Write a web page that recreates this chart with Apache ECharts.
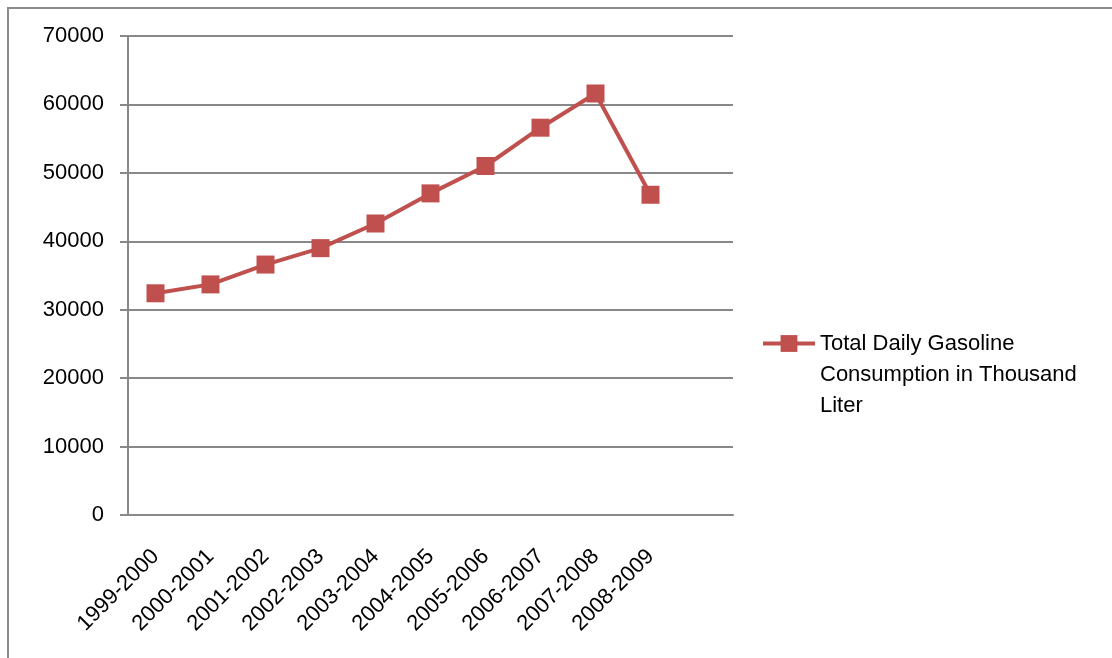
<!DOCTYPE html>
<html>
<head>
<meta charset="utf-8">
<script src="https://cdn.jsdelivr.net/npm/echarts@6/dist/echarts.min.js"></script>
<style>
  * { margin: 0; padding: 0; }
  body { background: #fff; }
  #chart { width: 1112px; height: 658px; }
</style>
</head>
<body>
<div id="chart"></div>
<script>
// years on the x axis (last slot is left empty, as in the original)
var categories = ['1999-2000', '2000-2001', '2001-2002', '2002-2003', '2003-2004',
  '2004-2005', '2005-2006', '2006-2007', '2007-2008', '2008-2009', ''];
// daily gasoline consumption, thousand liter
var consumption = [32400, 33700, 36600, 39000, 42600, 47000, 51000, 56600, 61600, 46800];
var seriesName = 'Total Daily Gasoline\nConsumption in Thousand\nLiter';

var chart = echarts.init(document.getElementById('chart'));
chart.setOption({
  animation: false,
  textStyle: { fontFamily: 'Liberation Sans' },
  graphic: [{
    type: 'rect',
    shape: { x: 8, y: 8, width: 1120, height: 670 },
    style: { fill: 'none', stroke: '#8c8c8c', lineWidth: 2 }
  }],
  grid: { left: 128, right: 379, top: 36, bottom: 143 },
  legend: {
    left: 761, top: 266,
    padding: 0,
    itemWidth: 52, itemHeight: 21,
    itemGap: 0,
    lineStyle: { width: 4 },
    // two leading blank lines keep the icon level with the first text line
    formatter: function (name) { return ' \n \n' + name; },
    textStyle: { fontSize: 22, color: '#000', lineHeight: 31 },
    data: [seriesName]
  },
  xAxis: {
    type: 'category',
    data: categories,
    axisLine: { lineStyle: { color: '#888', width: 2 } },
    axisTick: { length: 6, lineStyle: { color: '#888', width: 2 } },
    axisLabel: { rotate: 45, fontSize: 22, color: '#000', margin: 38, interval: 0 }
  },
  yAxis: {
    type: 'value',
    min: 0, max: 70000, interval: 10000,
    axisLine: { show: true, lineStyle: { color: '#888', width: 2 } },
    axisTick: { show: true, length: 8, lineStyle: { color: '#888', width: 2 } },
    axisLabel: { fontSize: 22, color: '#000', margin: 24, formatter: function (v) { return String(v); } },
    splitLine: { lineStyle: { color: '#888', width: 2 } }
  },
  series: [{
    name: seriesName,
    type: 'line',
    data: consumption,
    symbol: 'rect',
    symbolSize: 18,
    lineStyle: { color: '#C0504D', width: 4 },
    itemStyle: { color: '#C0504D' }
  }]
});
</script>
</body>
</html>
